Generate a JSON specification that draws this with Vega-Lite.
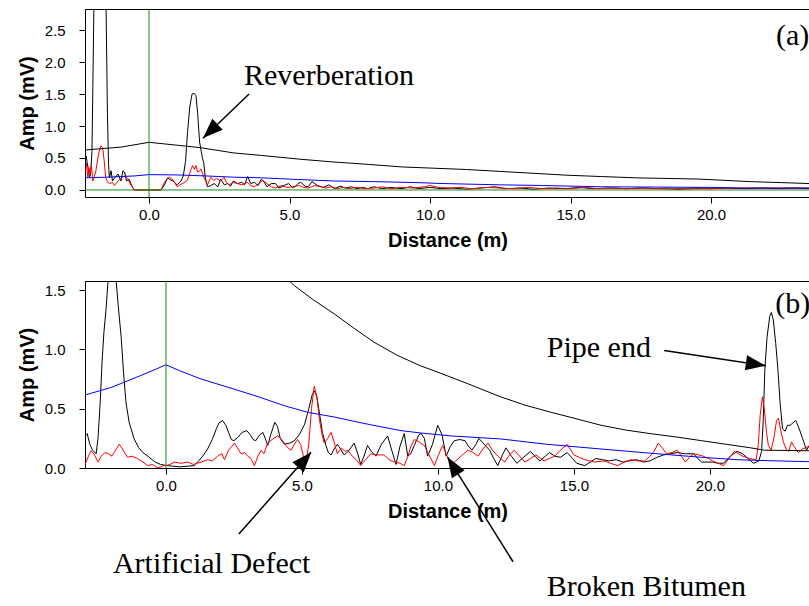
{
"$schema": "https://vega.github.io/schema/vega-lite/v6.json",
"padding": {"left": 17, "top": 8, "right": 0, "bottom": 0},
"spacing": 30,
"config": {
  "view": {"stroke": null},
  "font": "Liberation Sans",
  "axis": {"domainColor": "#000", "tickColor": "#000", "labelColor": "#000", "titleColor": "#000", "labelFont": "Liberation Sans", "titleFont": "Liberation Sans", "labelFontSize": 15, "titleFontSize": 20, "titleFontWeight": "bold", "grid": false, "tickSize": 6, "domainWidth": 1, "tickWidth": 1, "labelOverlap": false},
  "axisX": {"labelPadding": 4, "titlePadding": 8},
  "axisY": {"labelPadding": 14, "titlePadding": 7}
},
"datasets": {
"a": [
{"s":"T1","x":-2.28,"y":0.45},{"s":"T1","x":-2.24,"y":0.53},{"s":"T1","x":-2.2,"y":0.43},{"s":"T1","x":-2.15,"y":0.3},{"s":"T1","x":-2.12,"y":0.19},{"s":"T1","x":-2.08,"y":0.25},{"s":"T1","x":-2.03,"y":0.6},{"s":"T1","x":-2.0,"y":1.6},{"s":"T1","x":-1.96,"y":2.9},{"s":"T1","x":-1.9,"y":4.0},{"s":"T1","x":-1.75,"y":4.8},{"s":"T1","x":-1.6,"y":4.0},{"s":"T1","x":-1.53,"y":2.9},{"s":"T1","x":-1.48,"y":1.2},{"s":"T1","x":-1.44,"y":0.4},{"s":"T1","x":-1.41,"y":0.19},{"s":"T1","x":-1.35,"y":0.3},{"s":"T1","x":-1.3,"y":0.14},{"s":"T1","x":-1.2,"y":0.2},{"s":"T1","x":-1.1,"y":0.25},{"s":"T1","x":-1.0,"y":0.14},{"s":"T1","x":-0.93,"y":0.3},{"s":"T1","x":-0.87,"y":0.28},{"s":"T1","x":-0.8,"y":0.14},{"s":"T1","x":-0.71,"y":0.17},{"s":"T1","x":-0.62,"y":0.07},{"s":"T1","x":-0.53,"y":0.0},{"s":"T1","x":0.43,"y":0.0},{"s":"T1","x":0.55,"y":0.08},{"s":"T1","x":0.66,"y":0.19},{"s":"T1","x":0.75,"y":0.16},{"s":"T1","x":0.85,"y":0.14},{"s":"T1","x":1.0,"y":0.08},{"s":"T1","x":1.14,"y":0.14},{"s":"T1","x":1.22,"y":0.22},{"s":"T1","x":1.3,"y":0.45},{"s":"T1","x":1.37,"y":0.9},{"s":"T1","x":1.45,"y":1.3},{"s":"T1","x":1.53,"y":1.5},{"s":"T1","x":1.6,"y":1.51},{"s":"T1","x":1.67,"y":1.48},{"s":"T1","x":1.73,"y":1.2},{"s":"T1","x":1.8,"y":0.75},{"s":"T1","x":1.86,"y":0.6},{"s":"T1","x":1.9,"y":0.5},{"s":"T1","x":1.95,"y":0.42},{"s":"T1","x":2.0,"y":0.2},{"s":"T1","x":2.08,"y":0.05},{"s":"T1","x":2.2,"y":0.07},{"s":"T1","x":2.32,"y":0.1},{"s":"T1","x":2.45,"y":0.05},{"s":"T1","x":2.55,"y":0.17},{"s":"T1","x":2.68,"y":0.08},{"s":"T1","x":2.8,"y":0.1},{"s":"T1","x":2.9,"y":0.06},{"s":"T1","x":3.0,"y":0.14},{"s":"T1","x":3.15,"y":0.1},{"s":"T1","x":3.3,"y":0.12},{"s":"T1","x":3.4,"y":0.08},{"s":"T1","x":3.51,"y":0.21},{"s":"T1","x":3.62,"y":0.1},{"s":"T1","x":3.75,"y":0.12},{"s":"T1","x":3.88,"y":0.07},{"s":"T1","x":4.0,"y":0.17},{"s":"T1","x":4.1,"y":0.12},{"s":"T1","x":4.2,"y":0.05},{"s":"T1","x":4.35,"y":0.1},{"s":"T1","x":4.5,"y":0.1},{"s":"T1","x":4.62,"y":0.03},{"s":"T1","x":4.73,"y":0.05},{"s":"T1","x":4.85,"y":0.08},{"s":"T1","x":4.97,"y":0.1},{"s":"T1","x":5.1,"y":0.04},{"s":"T1","x":5.2,"y":0.05},{"s":"T1","x":5.3,"y":0.1},{"s":"T1","x":5.4,"y":0.12},{"s":"T1","x":5.55,"y":0.06},{"s":"T1","x":5.67,"y":0.05},{"s":"T1","x":5.8,"y":0.13},{"s":"T1","x":5.9,"y":0.1},{"s":"T1","x":6.0,"y":0.07},{"s":"T1","x":6.2,"y":0.04},{"s":"T1","x":6.4,"y":0.08},{"s":"T1","x":6.6,"y":0.02},{"s":"T1","x":6.8,"y":0.06},{"s":"T1","x":7.0,"y":0.03},{"s":"T1","x":7.2,"y":0.05},{"s":"T1","x":7.4,"y":0.02},{"s":"T1","x":7.6,"y":0.04},{"s":"T1","x":7.8,"y":0.02},{"s":"T1","x":8.0,"y":0.05},{"s":"T1","x":8.3,"y":0.02},{"s":"T1","x":8.6,"y":0.04},{"s":"T1","x":9.0,"y":0.02},{"s":"T1","x":9.3,"y":0.05},{"s":"T1","x":9.6,"y":0.02},{"s":"T1","x":10.0,"y":0.04},{"s":"T1","x":10.4,"y":0.02},{"s":"T1","x":10.8,"y":0.03},{"s":"T1","x":11.3,"y":0.01},{"s":"T1","x":11.8,"y":0.03},{"s":"T1","x":12.3,"y":0.05},{"s":"T1","x":12.7,"y":0.02},{"s":"T1","x":13.2,"y":0.03},{"s":"T1","x":13.7,"y":0.01},{"s":"T1","x":14.2,"y":0.03},{"s":"T1","x":14.8,"y":0.02},{"s":"T1","x":15.3,"y":0.04},{"s":"T1","x":15.8,"y":0.02},{"s":"T1","x":16.4,"y":0.03},{"s":"T1","x":17.0,"y":0.02},{"s":"T1","x":17.6,"y":0.03},{"s":"T1","x":18.2,"y":0.02},{"s":"T1","x":18.8,"y":0.01},{"s":"T1","x":19.4,"y":0.02},{"s":"T1","x":20.0,"y":0.02},{"s":"T1","x":20.6,"y":0.03},{"s":"T1","x":21.2,"y":0.02},{"s":"T1","x":21.8,"y":0.03},{"s":"T1","x":22.4,"y":0.02},{"s":"T1","x":23.0,"y":0.03},{"s":"T1","x":23.52,"y":0.02},
{"s":"T2","x":-2.28,"y":0.3},{"s":"T2","x":-2.25,"y":0.3},{"s":"T2","x":-2.22,"y":0.42},{"s":"T2","x":-2.18,"y":0.2},{"s":"T2","x":-2.14,"y":0.35},{"s":"T2","x":-2.1,"y":0.25},{"s":"T2","x":-2.05,"y":0.38},{"s":"T2","x":-2.0,"y":0.14},{"s":"T2","x":-1.95,"y":0.2},{"s":"T2","x":-1.89,"y":0.3},{"s":"T2","x":-1.82,"y":0.5},{"s":"T2","x":-1.77,"y":0.61},{"s":"T2","x":-1.71,"y":0.69},{"s":"T2","x":-1.65,"y":0.66},{"s":"T2","x":-1.6,"y":0.47},{"s":"T2","x":-1.54,"y":0.19},{"s":"T2","x":-1.47,"y":0.12},{"s":"T2","x":-1.4,"y":0.1},{"s":"T2","x":-1.3,"y":0.12},{"s":"T2","x":-1.23,"y":0.07},{"s":"T2","x":-1.1,"y":0.14},{"s":"T2","x":-1.0,"y":0.18},{"s":"T2","x":-0.94,"y":0.2},{"s":"T2","x":-0.85,"y":0.22},{"s":"T2","x":-0.76,"y":0.18},{"s":"T2","x":-0.65,"y":0.08},{"s":"T2","x":-0.53,"y":0.0},{"s":"T2","x":0.43,"y":0.0},{"s":"T2","x":0.54,"y":0.11},{"s":"T2","x":0.62,"y":0.16},{"s":"T2","x":0.72,"y":0.2},{"s":"T2","x":0.85,"y":0.16},{"s":"T2","x":1.0,"y":0.05},{"s":"T2","x":1.1,"y":0.08},{"s":"T2","x":1.27,"y":0.12},{"s":"T2","x":1.36,"y":0.15},{"s":"T2","x":1.43,"y":0.23},{"s":"T2","x":1.5,"y":0.33},{"s":"T2","x":1.55,"y":0.38},{"s":"T2","x":1.62,"y":0.32},{"s":"T2","x":1.67,"y":0.38},{"s":"T2","x":1.73,"y":0.28},{"s":"T2","x":1.8,"y":0.3},{"s":"T2","x":1.85,"y":0.33},{"s":"T2","x":1.97,"y":0.18},{"s":"T2","x":2.08,"y":0.08},{"s":"T2","x":2.2,"y":0.2},{"s":"T2","x":2.3,"y":0.15},{"s":"T2","x":2.4,"y":0.18},{"s":"T2","x":2.55,"y":0.14},{"s":"T2","x":2.67,"y":0.2},{"s":"T2","x":2.75,"y":0.12},{"s":"T2","x":2.85,"y":0.08},{"s":"T2","x":3.0,"y":0.12},{"s":"T2","x":3.15,"y":0.1},{"s":"T2","x":3.3,"y":0.08},{"s":"T2","x":3.5,"y":0.12},{"s":"T2","x":3.62,"y":0.07},{"s":"T2","x":3.75,"y":0.05},{"s":"T2","x":3.9,"y":0.1},{"s":"T2","x":4.05,"y":0.15},{"s":"T2","x":4.2,"y":0.1},{"s":"T2","x":4.35,"y":0.05},{"s":"T2","x":4.5,"y":0.03},{"s":"T2","x":4.73,"y":0.07},{"s":"T2","x":4.9,"y":0.04},{"s":"T2","x":5.1,"y":0.05},{"s":"T2","x":5.35,"y":0.07},{"s":"T2","x":5.5,"y":0.04},{"s":"T2","x":5.67,"y":0.03},{"s":"T2","x":5.9,"y":0.07},{"s":"T2","x":6.1,"y":0.05},{"s":"T2","x":6.3,"y":0.03},{"s":"T2","x":6.5,"y":0.05},{"s":"T2","x":6.7,"y":0.02},{"s":"T2","x":6.9,"y":0.04},{"s":"T2","x":7.1,"y":0.02},{"s":"T2","x":7.4,"y":0.04},{"s":"T2","x":7.7,"y":0.02},{"s":"T2","x":8.0,"y":0.03},{"s":"T2","x":8.3,"y":0.05},{"s":"T2","x":8.6,"y":0.02},{"s":"T2","x":9.0,"y":0.04},{"s":"T2","x":9.4,"y":0.03},{"s":"T2","x":9.8,"y":0.05},{"s":"T2","x":10.0,"y":0.07},{"s":"T2","x":10.3,"y":0.04},{"s":"T2","x":10.7,"y":0.03},{"s":"T2","x":11.1,"y":0.04},{"s":"T2","x":11.5,"y":0.02},{"s":"T2","x":12.0,"y":0.04},{"s":"T2","x":12.5,"y":0.03},{"s":"T2","x":13.0,"y":0.02},{"s":"T2","x":13.5,"y":0.04},{"s":"T2","x":14.0,"y":0.02},{"s":"T2","x":14.5,"y":0.03},{"s":"T2","x":15.0,"y":0.02},{"s":"T2","x":15.5,"y":0.04},{"s":"T2","x":16.0,"y":0.02},{"s":"T2","x":16.5,"y":0.03},{"s":"T2","x":17.0,"y":0.02},{"s":"T2","x":17.5,"y":0.03},{"s":"T2","x":18.0,"y":0.02},{"s":"T2","x":18.5,"y":0.03},{"s":"T2","x":19.0,"y":0.02},{"s":"T2","x":19.5,"y":0.03},{"s":"T2","x":20.0,"y":0.02},{"s":"T2","x":20.5,"y":0.03},{"s":"T2","x":21.0,"y":0.03},{"s":"T2","x":21.5,"y":0.03},{"s":"T2","x":22.0,"y":0.03},{"s":"T2","x":22.5,"y":0.03},{"s":"T2","x":23.0,"y":0.03},{"s":"T2","x":23.52,"y":0.03},
{"s":"TH","x":-2.28,"y":0.19},{"s":"TH","x":-1.5,"y":0.2},{"s":"TH","x":-0.5,"y":0.22},{"s":"TH","x":0.0,"y":0.24},{"s":"TH","x":1.0,"y":0.235},{"s":"TH","x":2.0,"y":0.22},{"s":"TH","x":3.0,"y":0.2},{"s":"TH","x":4.0,"y":0.19},{"s":"TH","x":5.0,"y":0.17},{"s":"TH","x":6.0,"y":0.15},{"s":"TH","x":6.6,"y":0.14},{"s":"TH","x":8.0,"y":0.13},{"s":"TH","x":9.57,"y":0.115},{"s":"TH","x":10.5,"y":0.1},{"s":"TH","x":12.5,"y":0.08},{"s":"TH","x":14.0,"y":0.07},{"s":"TH","x":16.1,"y":0.05},{"s":"TH","x":18.0,"y":0.045},{"s":"TH","x":20.0,"y":0.04},{"s":"TH","x":21.0,"y":0.03},{"s":"TH","x":23.52,"y":0.03},
{"s":"DAC","x":-2.28,"y":0.625},{"s":"DAC","x":-1.0,"y":0.67},{"s":"DAC","x":0.0,"y":0.745},{"s":"DAC","x":1.0,"y":0.7},{"s":"DAC","x":1.85,"y":0.66},{"s":"DAC","x":3.0,"y":0.58},{"s":"DAC","x":4.0,"y":0.54},{"s":"DAC","x":5.4,"y":0.48},{"s":"DAC","x":6.5,"y":0.44},{"s":"DAC","x":7.8,"y":0.4},{"s":"DAC","x":9.0,"y":0.36},{"s":"DAC","x":10.15,"y":0.34},{"s":"DAC","x":11.3,"y":0.32},{"s":"DAC","x":12.5,"y":0.29},{"s":"DAC","x":13.7,"y":0.26},{"s":"DAC","x":14.9,"y":0.23},{"s":"DAC","x":16.1,"y":0.21},{"s":"DAC","x":17.3,"y":0.19},{"s":"DAC","x":18.5,"y":0.18},{"s":"DAC","x":19.6,"y":0.17},{"s":"DAC","x":20.5,"y":0.15},{"s":"DAC","x":21.4,"y":0.13},{"s":"DAC","x":22.5,"y":0.115},{"s":"DAC","x":23.52,"y":0.1}
],
"b": [
{"s":"T1","x":-2.98,"y":0.27},{"s":"T1","x":-2.9,"y":0.29},{"s":"T1","x":-2.8,"y":0.2},{"s":"T1","x":-2.7,"y":0.15},{"s":"T1","x":-2.57,"y":0.12},{"s":"T1","x":-2.5,"y":0.25},{"s":"T1","x":-2.42,"y":0.55},{"s":"T1","x":-2.35,"y":0.9},{"s":"T1","x":-2.28,"y":1.15},{"s":"T1","x":-2.2,"y":1.35},{"s":"T1","x":-2.14,"y":1.55},{"s":"T1","x":-2.05,"y":1.65},{"s":"T1","x":-1.95,"y":1.68},{"s":"T1","x":-1.84,"y":1.6},{"s":"T1","x":-1.75,"y":1.35},{"s":"T1","x":-1.65,"y":1.11},{"s":"T1","x":-1.56,"y":0.8},{"s":"T1","x":-1.47,"y":0.55},{"s":"T1","x":-1.35,"y":0.38},{"s":"T1","x":-1.17,"y":0.245},{"s":"T1","x":-1.0,"y":0.17},{"s":"T1","x":-0.85,"y":0.13},{"s":"T1","x":-0.67,"y":0.1},{"s":"T1","x":-0.4,"y":0.05},{"s":"T1","x":-0.2,"y":0.03},{"s":"T1","x":0.06,"y":0.02},{"s":"T1","x":0.5,"y":0.01},{"s":"T1","x":1.04,"y":0.02},{"s":"T1","x":1.2,"y":0.06},{"s":"T1","x":1.35,"y":0.1},{"s":"T1","x":1.53,"y":0.16},{"s":"T1","x":1.7,"y":0.24},{"s":"T1","x":1.85,"y":0.33},{"s":"T1","x":1.95,"y":0.38},{"s":"T1","x":2.08,"y":0.4},{"s":"T1","x":2.2,"y":0.36},{"s":"T1","x":2.3,"y":0.3},{"s":"T1","x":2.4,"y":0.24},{"s":"T1","x":2.5,"y":0.23},{"s":"T1","x":2.65,"y":0.26},{"s":"T1","x":2.8,"y":0.3},{"s":"T1","x":2.97,"y":0.315},{"s":"T1","x":3.1,"y":0.28},{"s":"T1","x":3.2,"y":0.24},{"s":"T1","x":3.3,"y":0.23},{"s":"T1","x":3.45,"y":0.28},{"s":"T1","x":3.56,"y":0.3},{"s":"T1","x":3.65,"y":0.25},{"s":"T1","x":3.74,"y":0.19},{"s":"T1","x":3.85,"y":0.28},{"s":"T1","x":4.0,"y":0.385},{"s":"T1","x":4.1,"y":0.35},{"s":"T1","x":4.2,"y":0.25},{"s":"T1","x":4.35,"y":0.2},{"s":"T1","x":4.55,"y":0.21},{"s":"T1","x":4.72,"y":0.23},{"s":"T1","x":4.9,"y":0.28},{"s":"T1","x":5.1,"y":0.37},{"s":"T1","x":5.25,"y":0.5},{"s":"T1","x":5.38,"y":0.62},{"s":"T1","x":5.45,"y":0.65},{"s":"T1","x":5.55,"y":0.6},{"s":"T1","x":5.65,"y":0.45},{"s":"T1","x":5.75,"y":0.3},{"s":"T1","x":5.88,"y":0.19},{"s":"T1","x":5.97,"y":0.13},{"s":"T1","x":6.07,"y":0.11},{"s":"T1","x":6.18,"y":0.16},{"s":"T1","x":6.3,"y":0.2},{"s":"T1","x":6.42,"y":0.16},{"s":"T1","x":6.55,"y":0.11},{"s":"T1","x":6.7,"y":0.14},{"s":"T1","x":6.92,"y":0.21},{"s":"T1","x":7.05,"y":0.12},{"s":"T1","x":7.16,"y":0.03},{"s":"T1","x":7.28,"y":0.1},{"s":"T1","x":7.41,"y":0.19},{"s":"T1","x":7.55,"y":0.14},{"s":"T1","x":7.72,"y":0.1},{"s":"T1","x":7.92,"y":0.2},{"s":"T1","x":8.15,"y":0.27},{"s":"T1","x":8.3,"y":0.15},{"s":"T1","x":8.46,"y":0.03},{"s":"T1","x":8.6,"y":0.18},{"s":"T1","x":8.76,"y":0.29},{"s":"T1","x":8.89,"y":0.1},{"s":"T1","x":9.0,"y":0.12},{"s":"T1","x":9.13,"y":0.19},{"s":"T1","x":9.3,"y":0.28},{"s":"T1","x":9.38,"y":0.29},{"s":"T1","x":9.5,"y":0.25},{"s":"T1","x":9.62,"y":0.1},{"s":"T1","x":9.8,"y":0.2},{"s":"T1","x":9.99,"y":0.36},{"s":"T1","x":10.15,"y":0.28},{"s":"T1","x":10.3,"y":0.1},{"s":"T1","x":10.45,"y":0.18},{"s":"T1","x":10.6,"y":0.23},{"s":"T1","x":10.8,"y":0.24},{"s":"T1","x":11.0,"y":0.23},{"s":"T1","x":11.1,"y":0.19},{"s":"T1","x":11.25,"y":0.15},{"s":"T1","x":11.4,"y":0.2},{"s":"T1","x":11.5,"y":0.25},{"s":"T1","x":11.7,"y":0.2},{"s":"T1","x":11.9,"y":0.15},{"s":"T1","x":12.05,"y":0.08},{"s":"T1","x":12.2,"y":0.02},{"s":"T1","x":12.35,"y":0.1},{"s":"T1","x":12.5,"y":0.17},{"s":"T1","x":12.7,"y":0.1},{"s":"T1","x":12.9,"y":0.04},{"s":"T1","x":13.1,"y":0.08},{"s":"T1","x":13.4,"y":0.14},{"s":"T1","x":13.6,"y":0.09},{"s":"T1","x":13.75,"y":0.06},{"s":"T1","x":13.95,"y":0.1},{"s":"T1","x":14.1,"y":0.13},{"s":"T1","x":14.3,"y":0.1},{"s":"T1","x":14.5,"y":0.09},{"s":"T1","x":14.75,"y":0.13},{"s":"T1","x":14.95,"y":0.08},{"s":"T1","x":15.1,"y":0.04},{"s":"T1","x":15.4,"y":0.02},{"s":"T1","x":15.6,"y":0.05},{"s":"T1","x":15.8,"y":0.08},{"s":"T1","x":16.05,"y":0.07},{"s":"T1","x":16.3,"y":0.06},{"s":"T1","x":16.55,"y":0.07},{"s":"T1","x":16.8,"y":0.05},{"s":"T1","x":17.05,"y":0.06},{"s":"T1","x":17.3,"y":0.07},{"s":"T1","x":17.55,"y":0.05},{"s":"T1","x":17.8,"y":0.06},{"s":"T1","x":18.05,"y":0.09},{"s":"T1","x":18.3,"y":0.11},{"s":"T1","x":18.55,"y":0.12},{"s":"T1","x":18.8,"y":0.13},{"s":"T1","x":19.1,"y":0.12},{"s":"T1","x":19.4,"y":0.12},{"s":"T1","x":19.55,"y":0.08},{"s":"T1","x":19.7,"y":0.05},{"s":"T1","x":19.9,"y":0.05},{"s":"T1","x":20.1,"y":0.05},{"s":"T1","x":20.3,"y":0.04},{"s":"T1","x":20.5,"y":0.04},{"s":"T1","x":20.75,"y":0.1},{"s":"T1","x":21.0,"y":0.14},{"s":"T1","x":21.2,"y":0.12},{"s":"T1","x":21.4,"y":0.08},{"s":"T1","x":21.6,"y":0.04},{"s":"T1","x":21.8,"y":0.06},{"s":"T1","x":21.9,"y":0.14},{"s":"T1","x":21.96,"y":0.4},{"s":"T1","x":22.02,"y":0.83},{"s":"T1","x":22.1,"y":1.1},{"s":"T1","x":22.2,"y":1.28},{"s":"T1","x":22.26,"y":1.31},{"s":"T1","x":22.33,"y":1.25},{"s":"T1","x":22.42,"y":1.05},{"s":"T1","x":22.5,"y":0.83},{"s":"T1","x":22.58,"y":0.55},{"s":"T1","x":22.67,"y":0.33},{"s":"T1","x":22.77,"y":0.31},{"s":"T1","x":22.85,"y":0.36},{"s":"T1","x":22.95,"y":0.36},{"s":"T1","x":23.05,"y":0.38},{"s":"T1","x":23.16,"y":0.4},{"s":"T1","x":23.3,"y":0.32},{"s":"T1","x":23.45,"y":0.22},{"s":"T1","x":23.55,"y":0.15},{"s":"T1","x":23.68,"y":0.2},
{"s":"T2","x":-2.98,"y":0.03},{"s":"T2","x":-2.94,"y":0.05},{"s":"T2","x":-2.85,"y":0.1},{"s":"T2","x":-2.76,"y":0.145},{"s":"T2","x":-2.65,"y":0.12},{"s":"T2","x":-2.5,"y":0.05},{"s":"T2","x":-2.38,"y":0.1},{"s":"T2","x":-2.25,"y":0.13},{"s":"T2","x":-2.12,"y":0.12},{"s":"T2","x":-2.0,"y":0.1},{"s":"T2","x":-1.88,"y":0.14},{"s":"T2","x":-1.72,"y":0.2},{"s":"T2","x":-1.6,"y":0.16},{"s":"T2","x":-1.5,"y":0.12},{"s":"T2","x":-1.41,"y":0.09},{"s":"T2","x":-1.25,"y":0.1},{"s":"T2","x":-1.05,"y":0.08},{"s":"T2","x":-0.85,"y":0.05},{"s":"T2","x":-0.67,"y":0.02},{"s":"T2","x":-0.5,"y":0.03},{"s":"T2","x":-0.3,"y":0.0},{"s":"T2","x":-0.1,"y":0.02},{"s":"T2","x":0.0,"y":0.02},{"s":"T2","x":0.15,"y":0.03},{"s":"T2","x":0.3,"y":0.05},{"s":"T2","x":0.55,"y":0.04},{"s":"T2","x":0.8,"y":0.05},{"s":"T2","x":1.0,"y":0.03},{"s":"T2","x":1.29,"y":0.05},{"s":"T2","x":1.53,"y":0.07},{"s":"T2","x":1.7,"y":0.06},{"s":"T2","x":1.9,"y":0.1},{"s":"T2","x":2.05,"y":0.12},{"s":"T2","x":2.15,"y":0.07},{"s":"T2","x":2.3,"y":0.15},{"s":"T2","x":2.52,"y":0.21},{"s":"T2","x":2.65,"y":0.16},{"s":"T2","x":2.76,"y":0.12},{"s":"T2","x":2.9,"y":0.13},{"s":"T2","x":3.0,"y":0.1},{"s":"T2","x":3.12,"y":0.08},{"s":"T2","x":3.25,"y":0.02},{"s":"T2","x":3.38,"y":0.1},{"s":"T2","x":3.5,"y":0.15},{"s":"T2","x":3.6,"y":0.12},{"s":"T2","x":3.74,"y":0.21},{"s":"T2","x":3.9,"y":0.24},{"s":"T2","x":4.1,"y":0.27},{"s":"T2","x":4.22,"y":0.25},{"s":"T2","x":4.35,"y":0.21},{"s":"T2","x":4.48,"y":0.17},{"s":"T2","x":4.6,"y":0.15},{"s":"T2","x":4.72,"y":0.2},{"s":"T2","x":4.84,"y":0.24},{"s":"T2","x":4.95,"y":0.2},{"s":"T2","x":5.05,"y":0.1},{"s":"T2","x":5.15,"y":0.05},{"s":"T2","x":5.25,"y":0.2},{"s":"T2","x":5.35,"y":0.5},{"s":"T2","x":5.45,"y":0.69},{"s":"T2","x":5.55,"y":0.6},{"s":"T2","x":5.64,"y":0.41},{"s":"T2","x":5.74,"y":0.28},{"s":"T2","x":5.82,"y":0.21},{"s":"T2","x":5.95,"y":0.25},{"s":"T2","x":6.07,"y":0.3},{"s":"T2","x":6.18,"y":0.22},{"s":"T2","x":6.3,"y":0.12},{"s":"T2","x":6.45,"y":0.17},{"s":"T2","x":6.58,"y":0.14},{"s":"T2","x":6.68,"y":0.15},{"s":"T2","x":6.85,"y":0.1},{"s":"T2","x":7.0,"y":0.07},{"s":"T2","x":7.16,"y":0.02},{"s":"T2","x":7.3,"y":0.06},{"s":"T2","x":7.53,"y":0.12},{"s":"T2","x":7.75,"y":0.11},{"s":"T2","x":8.02,"y":0.11},{"s":"T2","x":8.2,"y":0.07},{"s":"T2","x":8.4,"y":0.05},{"s":"T2","x":8.6,"y":0.04},{"s":"T2","x":8.76,"y":0.02},{"s":"T2","x":8.9,"y":0.1},{"s":"T2","x":9.0,"y":0.18},{"s":"T2","x":9.13,"y":0.24},{"s":"T2","x":9.3,"y":0.22},{"s":"T2","x":9.5,"y":0.19},{"s":"T2","x":9.65,"y":0.12},{"s":"T2","x":9.87,"y":0.02},{"s":"T2","x":10.0,"y":0.1},{"s":"T2","x":10.17,"y":0.19},{"s":"T2","x":10.3,"y":0.12},{"s":"T2","x":10.48,"y":0.02},{"s":"T2","x":10.65,"y":0.06},{"s":"T2","x":10.85,"y":0.1},{"s":"T2","x":11.1,"y":0.15},{"s":"T2","x":11.3,"y":0.13},{"s":"T2","x":11.47,"y":0.1},{"s":"T2","x":11.65,"y":0.16},{"s":"T2","x":11.84,"y":0.21},{"s":"T2","x":12.0,"y":0.15},{"s":"T2","x":12.2,"y":0.1},{"s":"T2","x":12.46,"y":0.05},{"s":"T2","x":12.6,"y":0.1},{"s":"T2","x":12.8,"y":0.15},{"s":"T2","x":13.0,"y":0.1},{"s":"T2","x":13.2,"y":0.05},{"s":"T2","x":13.4,"y":0.08},{"s":"T2","x":13.6,"y":0.11},{"s":"T2","x":13.9,"y":0.06},{"s":"T2","x":14.1,"y":0.08},{"s":"T2","x":14.3,"y":0.1},{"s":"T2","x":14.5,"y":0.15},{"s":"T2","x":14.75,"y":0.2},{"s":"T2","x":15.0,"y":0.11},{"s":"T2","x":15.2,"y":0.09},{"s":"T2","x":15.4,"y":0.07},{"s":"T2","x":15.75,"y":0.05},{"s":"T2","x":16.1,"y":0.06},{"s":"T2","x":16.35,"y":0.04},{"s":"T2","x":16.6,"y":0.02},{"s":"T2","x":16.85,"y":0.05},{"s":"T2","x":17.1,"y":0.07},{"s":"T2","x":17.35,"y":0.06},{"s":"T2","x":17.6,"y":0.06},{"s":"T2","x":17.8,"y":0.1},{"s":"T2","x":17.95,"y":0.14},{"s":"T2","x":18.1,"y":0.21},{"s":"T2","x":18.25,"y":0.17},{"s":"T2","x":18.4,"y":0.12},{"s":"T2","x":18.6,"y":0.13},{"s":"T2","x":18.8,"y":0.15},{"s":"T2","x":18.95,"y":0.1},{"s":"T2","x":19.1,"y":0.05},{"s":"T2","x":19.25,"y":0.09},{"s":"T2","x":19.4,"y":0.12},{"s":"T2","x":19.6,"y":0.11},{"s":"T2","x":19.75,"y":0.1},{"s":"T2","x":19.95,"y":0.08},{"s":"T2","x":20.1,"y":0.06},{"s":"T2","x":20.3,"y":0.04},{"s":"T2","x":20.5,"y":0.02},{"s":"T2","x":20.7,"y":0.08},{"s":"T2","x":20.9,"y":0.14},{"s":"T2","x":21.05,"y":0.12},{"s":"T2","x":21.2,"y":0.1},{"s":"T2","x":21.45,"y":0.08},{"s":"T2","x":21.7,"y":0.07},{"s":"T2","x":21.78,"y":0.2},{"s":"T2","x":21.85,"y":0.45},{"s":"T2","x":21.93,"y":0.6},{"s":"T2","x":22.0,"y":0.5},{"s":"T2","x":22.08,"y":0.3},{"s":"T2","x":22.15,"y":0.19},{"s":"T2","x":22.25,"y":0.15},{"s":"T2","x":22.35,"y":0.25},{"s":"T2","x":22.45,"y":0.4},{"s":"T2","x":22.52,"y":0.42},{"s":"T2","x":22.6,"y":0.32},{"s":"T2","x":22.7,"y":0.22},{"s":"T2","x":22.8,"y":0.16},{"s":"T2","x":22.9,"y":0.14},{"s":"T2","x":23.0,"y":0.22},{"s":"T2","x":23.1,"y":0.18},{"s":"T2","x":23.25,"y":0.13},{"s":"T2","x":23.4,"y":0.16},{"s":"T2","x":23.6,"y":0.18},{"s":"T2","x":23.68,"y":0.17},
{"s":"TH","x":-2.98,"y":0.615},{"s":"TH","x":-2.0,"y":0.68},{"s":"TH","x":-0.92,"y":0.78},{"s":"TH","x":-0.4,"y":0.83},{"s":"TH","x":0.0,"y":0.87},{"s":"TH","x":0.5,"y":0.82},{"s":"TH","x":1.29,"y":0.75},{"s":"TH","x":2.5,"y":0.665},{"s":"TH","x":3.4,"y":0.6},{"s":"TH","x":4.35,"y":0.525},{"s":"TH","x":5.2,"y":0.47},{"s":"TH","x":6.18,"y":0.43},{"s":"TH","x":7.4,"y":0.37},{"s":"TH","x":8.64,"y":0.315},{"s":"TH","x":9.37,"y":0.295},{"s":"TH","x":10.5,"y":0.27},{"s":"TH","x":12.3,"y":0.245},{"s":"TH","x":14.0,"y":0.2},{"s":"TH","x":16.0,"y":0.16},{"s":"TH","x":17.8,"y":0.125},{"s":"TH","x":19.7,"y":0.09},{"s":"TH","x":21.0,"y":0.07},{"s":"TH","x":22.1,"y":0.062},{"s":"TH","x":23.68,"y":0.053},
{"s":"DAC","x":3.8,"y":1.75},{"s":"DAC","x":4.7,"y":1.54},{"s":"DAC","x":5.4,"y":1.42},{"s":"DAC","x":6.18,"y":1.3},{"s":"DAC","x":6.9,"y":1.18},{"s":"DAC","x":7.65,"y":1.06},{"s":"DAC","x":8.5,"y":0.95},{"s":"DAC","x":9.37,"y":0.86},{"s":"DAC","x":9.85,"y":0.82},{"s":"DAC","x":11.1,"y":0.71},{"s":"DAC","x":12.3,"y":0.6},{"s":"DAC","x":13.2,"y":0.53},{"s":"DAC","x":14.15,"y":0.47},{"s":"DAC","x":15.0,"y":0.42},{"s":"DAC","x":16.0,"y":0.36},{"s":"DAC","x":16.9,"y":0.32},{"s":"DAC","x":17.8,"y":0.29},{"s":"DAC","x":18.8,"y":0.26},{"s":"DAC","x":19.7,"y":0.23},{"s":"DAC","x":20.6,"y":0.2},{"s":"DAC","x":21.5,"y":0.17},{"s":"DAC","x":22.0,"y":0.15},{"s":"DAC","x":23.68,"y":0.145}
]
},
"vconcat": [
{
 "width": 725, "height": 188,
 "resolve": {"axis": {"x": "independent"}},
 "layer": [
  {"data": {"name": "a"}, "mark": {"type": "line", "clip": true, "strokeWidth": 1},
   "encoding": {
    "x": {"field": "x", "type": "quantitative", "scale": {"domain": [-2.278, 23.52], "nice": false, "zero": false}, "axis": {"values": [0, 5, 10, 15, 20], "format": ".1f", "title": "Distance (m)"}},
    "y": {"field": "y", "type": "quantitative", "scale": {"domain": [-0.11, 2.83], "nice": false, "zero": false}, "axis": {"values": [0, 0.5, 1, 1.5, 2, 2.5], "format": ".1f", "title": "Amp (mV)", "labelOverlap": false}},
    "color": {"field": "s", "type": "nominal", "scale": {"domain": ["T1", "T2", "TH", "DAC"], "range": ["#000000", "#ff0000", "#0000ff", "#000000"]}, "legend": null}
   }},
  {"data": {"values": [{"x": 0}]}, "mark": {"type": "rule", "color": "#1a8a1a", "strokeWidth": 1},
   "encoding": {"x": {"field": "x", "type": "quantitative", "scale": {"domain": [-2.278, 23.52], "nice": false, "zero": false}, "axis": {"orient": "top", "labels": false, "ticks": false, "title": null, "domain": true}}}},
  {"data": {"values": [{"y": 0}]}, "mark": {"type": "rule", "color": "#1a8a1a", "strokeWidth": 1},
   "encoding": {"y": {"field": "y", "type": "quantitative", "scale": {"domain": [-0.11, 2.83], "nice": false, "zero": false}, "axis": {"values": [0, 0.5, 1, 1.5, 2, 2.5], "format": ".1f", "title": "Amp (mV)", "labelOverlap": false}}}},
  {"data": {"values": [{"label": "Reverberation", "x": 3.38, "y": 1.78}, {"label": "(a)", "x": 22.31, "y": 2.41}]},
   "mark": {"type": "text", "font": "Liberation Serif", "fontSize": 30, "align": "left", "baseline": "middle", "color": "#000"},
   "encoding": {"text": {"field": "label"},
    "x": {"field": "x", "type": "quantitative", "scale": {"domain": [-2.278, 23.52], "nice": false, "zero": false}, "axis": null},
    "y": {"field": "y", "type": "quantitative", "scale": {"domain": [-0.11, 2.83], "nice": false, "zero": false}, "axis": {"values": [0, 0.5, 1, 1.5, 2, 2.5], "format": ".1f", "title": "Amp (mV)", "labelOverlap": false}}}},
  {"data": {"values": [{"x": 3.56, "y": 1.5, "x2": 1.92, "y2": 0.81}]},
   "mark": {"type": "rule", "color": "#000", "strokeWidth": 1.5},
   "encoding": {
    "x": {"field": "x", "type": "quantitative", "scale": {"domain": [-2.278, 23.52], "nice": false, "zero": false}, "axis": null},
    "y": {"field": "y", "type": "quantitative", "scale": {"domain": [-0.11, 2.83], "nice": false, "zero": false}, "axis": {"values": [0, 0.5, 1, 1.5, 2, 2.5], "format": ".1f", "title": "Amp (mV)", "labelOverlap": false}},
    "x2": {"field": "x2"}, "y2": {"field": "y2"}}},
  {"data": {"values": [{"x": 2.18, "y": 0.92}]},
   "mark": {"type": "point", "shape": "M0,-1L0.75,1L-0.75,1Z", "size": 400, "angle": 226.3, "filled": true, "color": "#000", "opacity": 1},
   "encoding": {
    "x": {"field": "x", "type": "quantitative", "scale": {"domain": [-2.278, 23.52], "nice": false, "zero": false}, "axis": null},
    "y": {"field": "y", "type": "quantitative", "scale": {"domain": [-0.11, 2.83], "nice": false, "zero": false}, "axis": {"values": [0, 0.5, 1, 1.5, 2, 2.5], "format": ".1f", "title": "Amp (mV)", "labelOverlap": false}}}}
 ]
},
{
 "width": 725, "height": 187,
 "resolve": {"axis": {"x": "independent"}},
 "layer": [
  {"data": {"name": "b"}, "mark": {"type": "line", "clip": true, "strokeWidth": 1},
   "encoding": {
    "x": {"field": "x", "type": "quantitative", "scale": {"domain": [-2.978, 23.68], "nice": false, "zero": false}, "axis": {"values": [0, 5, 10, 15, 20], "format": ".1f", "title": "Distance (m)"}},
    "y": {"field": "y", "type": "quantitative", "scale": {"domain": [0, 1.576], "nice": false, "zero": false}, "axis": {"values": [0, 0.5, 1, 1.5], "format": ".1f", "title": "Amp (mV)"}},
    "color": {"field": "s", "type": "nominal", "scale": {"domain": ["T1", "T2", "TH", "DAC"], "range": ["#000000", "#ff0000", "#0000ff", "#000000"]}, "legend": null}
   }},
  {"data": {"values": [{"x": 0}]}, "mark": {"type": "rule", "color": "#1a8a1a", "strokeWidth": 1},
   "encoding": {"x": {"field": "x", "type": "quantitative", "scale": {"domain": [-2.978, 23.68], "nice": false, "zero": false}, "axis": {"orient": "top", "labels": false, "ticks": false, "title": null, "domain": true}}}},
  {"data": {"values": [{"label": "(b)", "x": 22.4, "y": 1.38}, {"label": "Pipe end", "x": 14.0, "y": 1.01}, {"label": "Artificial Defect", "x": -1.95, "y": -0.81}, {"label": "Broken Bitumen", "x": 14.0, "y": -1.003}]},
   "mark": {"type": "text", "font": "Liberation Serif", "fontSize": 30, "align": "left", "baseline": "middle", "color": "#000"},
   "encoding": {"text": {"field": "label"},
    "x": {"field": "x", "type": "quantitative", "scale": {"domain": [-2.978, 23.68], "nice": false, "zero": false}, "axis": null},
    "y": {"field": "y", "type": "quantitative", "scale": {"domain": [0, 1.576], "nice": false, "zero": false}}}},
  {"data": {"values": [{"x": 18.32, "y": 0.99, "x2": 22.06, "y2": 0.862}, {"x": 2.68, "y": -0.556, "x2": 5.33, "y2": 0.132}, {"x": 12.76, "y": -0.79, "x2": 10.36, "y2": 0.09}]},
   "mark": {"type": "rule", "color": "#000", "strokeWidth": 1.5},
   "encoding": {
    "x": {"field": "x", "type": "quantitative", "scale": {"domain": [-2.978, 23.68], "nice": false, "zero": false}, "axis": null},
    "y": {"field": "y", "type": "quantitative", "scale": {"domain": [0, 1.576], "nice": false, "zero": false}},
    "x2": {"field": "x2"}, "y2": {"field": "y2"}}},
  {"data": {"values": [{"x": 21.69, "y": 0.875}]},
   "mark": {"type": "point", "shape": "M0,-1L0.75,1L-0.75,1Z", "size": 400, "angle": 98.4, "filled": true, "color": "#000", "opacity": 1},
   "encoding": {
    "x": {"field": "x", "type": "quantitative", "scale": {"domain": [-2.978, 23.68], "nice": false, "zero": false}, "axis": null},
    "y": {"field": "y", "type": "quantitative", "scale": {"domain": [0, 1.576], "nice": false, "zero": false}}}},
  {"data": {"values": [{"x": 5.1, "y": 0.069}]},
   "mark": {"type": "point", "shape": "M0,-1L0.75,1L-0.75,1Z", "size": 400, "angle": 41.4, "filled": true, "color": "#000", "opacity": 1},
   "encoding": {
    "x": {"field": "x", "type": "quantitative", "scale": {"domain": [-2.978, 23.68], "nice": false, "zero": false}, "axis": null},
    "y": {"field": "y", "type": "quantitative", "scale": {"domain": [0, 1.576], "nice": false, "zero": false}}}},
  {"data": {"values": [{"x": 10.55, "y": 0.019}]},
   "mark": {"type": "point", "shape": "M0,-1L0.75,1L-0.75,1Z", "size": 400, "angle": 328, "filled": true, "color": "#000", "opacity": 1},
   "encoding": {
    "x": {"field": "x", "type": "quantitative", "scale": {"domain": [-2.978, 23.68], "nice": false, "zero": false}, "axis": null},
    "y": {"field": "y", "type": "quantitative", "scale": {"domain": [0, 1.576], "nice": false, "zero": false}}}}
 ]
}
]
}
